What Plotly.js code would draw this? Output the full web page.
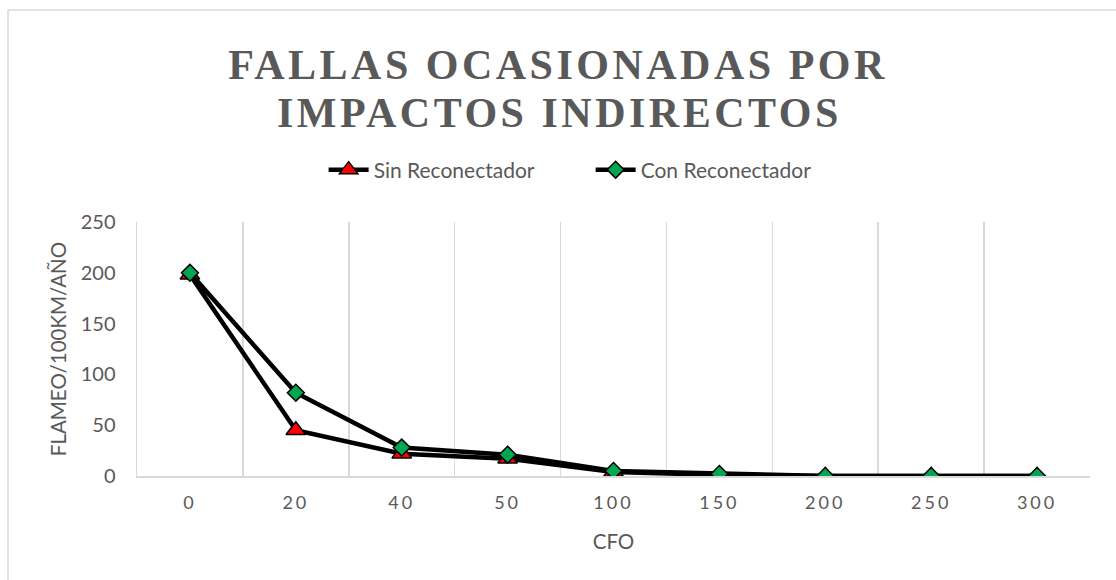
<!DOCTYPE html>
<html>
<head>
<meta charset="utf-8">
<script src="https://cdn.plot.ly/plotly-3.0.1.min.js"></script>
<style>
  html, body { margin: 0; padding: 0; background: #ffffff; }
  #chart { width: 1116px; height: 580px; }
</style>
</head>
<body>
<div id="chart"></div>
<script>
// CFO categories and annual flashover rates per 100 km
const cfoLabels = ['0', '20', '40', '50', '100', '150', '200', '250', '300'];
const sinReconectador = [198, 45, 22, 17, 4, 1, 0, 0, 0];
const conReconectador = [200, 82, 28, 21, 5, 2, 0, 0, 0];
const yTicks = [0, 50, 100, 150, 200, 250];
const titleLines = ['FALLAS OCASIONADAS POR', 'IMPACTOS INDIRECTOS'];

const grey = '#595959';
const sans = 'Lato, sans-serif';
const spaced = (s, px) => '<span style="letter-spacing:' + px + 'px">' + s + '</span>';
const titleFont = { family: 'Liberation Serif, serif', size: 42, color: grey, weight: 'bold' };

const traces = [
  {
    name: 'Sin Reconectador',
    x: cfoLabels, y: sinReconectador,
    type: 'scatter', mode: 'lines+markers',
    line: { color: '#000000', width: 4.5 },
    marker: { symbol: 'triangle-up', size: 17, color: '#ff0000', line: { color: '#000000', width: 1.5 } }
  },
  {
    name: 'Con Reconectador',
    x: cfoLabels, y: conReconectador,
    type: 'scatter', mode: 'lines+markers',
    line: { color: '#000000', width: 4.5 },
    marker: { symbol: 'diamond', size: 13, color: '#00a651', line: { color: '#000000', width: 1.5 } }
  }
];

const layout = {
  width: 1116, height: 580,
  margin: { l: 137, r: 26, t: 222, b: 104 },
  paper_bgcolor: '#ffffff', plot_bgcolor: '#ffffff',
  showlegend: true,
  title: {
    text: spaced(titleLines[0], 3.5),
    font: titleFont,
    x: 0.5, xref: 'container', xanchor: 'center',
    y: 1 - 64 / 580, yref: 'container', yanchor: 'middle'
  },
  annotations: [
    {
      text: spaced(titleLines[1], 3.5), font: titleFont,
      xref: 'paper', yref: 'paper',
      x: (559 - 137) / 953, y: 1 + (222 - 113) / 254,
      xanchor: 'center', yanchor: 'middle', showarrow: false
    }
  ],
  legend: {
    orientation: 'h', x: 0.476, xanchor: 'center', xref: 'paper',
    y: 1 + 52 / 254, yanchor: 'middle',
    font: { family: sans, size: 21, color: grey },
    entrywidth: 212, entrywidthmode: 'pixels',
    itemwidth: 40
  },
  xaxis: {
    type: 'category',
    categoryorder: 'array', categoryarray: cfoLabels,
    tickmode: 'array', tickvals: cfoLabels, ticktext: cfoLabels.map(s => spaced(s, 3)),
    tickson: 'boundaries', ticks: '', ticklabelstandoff: 10,
    showgrid: true, gridcolor: '#d9d9d9', gridwidth: 1.5,
    showline: true, linecolor: '#d9d9d9', linewidth: 1.5,
    tickfont: { family: sans, size: 18, color: grey },
    title: { text: 'CFO', font: { family: sans, size: 20.5, color: grey }, standoff: 22 },
    range: [-0.5, 8.5], zeroline: false, fixedrange: true
  },
  yaxis: {
    range: [0, 250], tickmode: 'array', tickvals: yTicks, ticktext: yTicks.map(String),
    showgrid: false, zeroline: false,
    showline: true, linecolor: '#d9d9d9', linewidth: 1.5,
    ticks: '', ticklen: 0, ticklabelstandoff: 16,
    tickfont: { family: sans, size: 20, color: grey },
    title: { text: 'FLAMEO/100KM/AÑO', font: { family: sans, size: 20.5, color: grey }, standoff: 8 },
    fixedrange: true
  },
  shapes: [
    {
      type: 'rect', xref: 'paper', yref: 'paper',
      x0: (8 - 137) / 953, x1: (1130 - 137) / 953,
      y0: (104 - 600) / 254, y1: (570 - 104) / 254,
      line: { color: '#d9d9d9', width: 1.5 }, fillcolor: 'rgba(0,0,0,0)', layer: 'below'
    }
  ]
};

Plotly.newPlot('chart', traces, layout, { displayModeBar: false, staticPlot: true });
</script>
</body>
</html>
